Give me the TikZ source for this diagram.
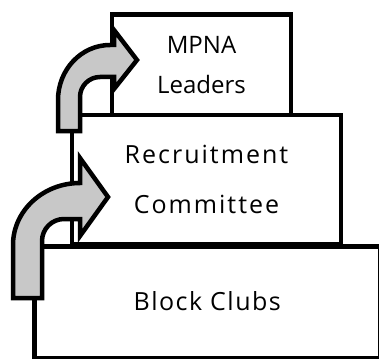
\documentclass[tikz,border=0pt]{standalone}
\usepackage{fontspec}
\setmainfont{Open Sans}
\newfontfamily\spacedfont[LetterSpace=8]{Open Sans}
\newfontfamily\lessspacedfont[LetterSpace=6]{Open Sans}
\definecolor{arrowgray}{HTML}{C8C8C8}
\begin{document}
\begin{tikzpicture}[x=1pt,y=-1pt,
  box/.style={draw=black, line width=4.5pt, fill=white, inner sep=0pt, align=center},
  bentarrow/.style={draw=black, line width=4.5pt, fill=arrowgray}]
\useasboundingbox (0,0) rectangle (379,358);
\clip (0,0) rectangle (379,358);
\node[box, minimum width=345.5pt, minimum height=112pt, text depth=4pt,
      font=\lessspacedfont\fontsize{25}{30}\selectfont] (clubs) at (207.25,302.5) {Block Clubs};
\node[box, minimum width=269pt, minimum height=129pt,
      font=\spacedfont\fontsize{25}{50}\selectfont] (committee) at (206.5,179.5) {Recruitment\\Committee};
\node[box, minimum width=179pt, minimum height=100.5pt,
      font=\fontsize{24}{40}\selectfont] (leaders) at (201.5,64.75) {MPNA\\Leaders};
% upper bent arrow
\draw[bentarrow] (58,131) -- (58,100) .. controls (58,69.6) and (81.3,45) .. (110,45)
  -- (114,45) -- (114,30) -- (137,60) -- (114,89) -- (114,77) -- (100,77)
  .. controls (89,77) and (80,86) .. (80,97) -- (80,131) -- cycle;
% lower bent arrow
\draw[bentarrow] (13,298) -- (13,245) .. controls (13,210.8) and (43,183) .. (80,183)
  -- (80,158) -- (108,197) -- (80,236) -- (80,219) -- (64,219)
  .. controls (51.9,219) and (42,228.9) .. (42,241) -- (42,298) -- cycle;
\end{tikzpicture}
\end{document}
